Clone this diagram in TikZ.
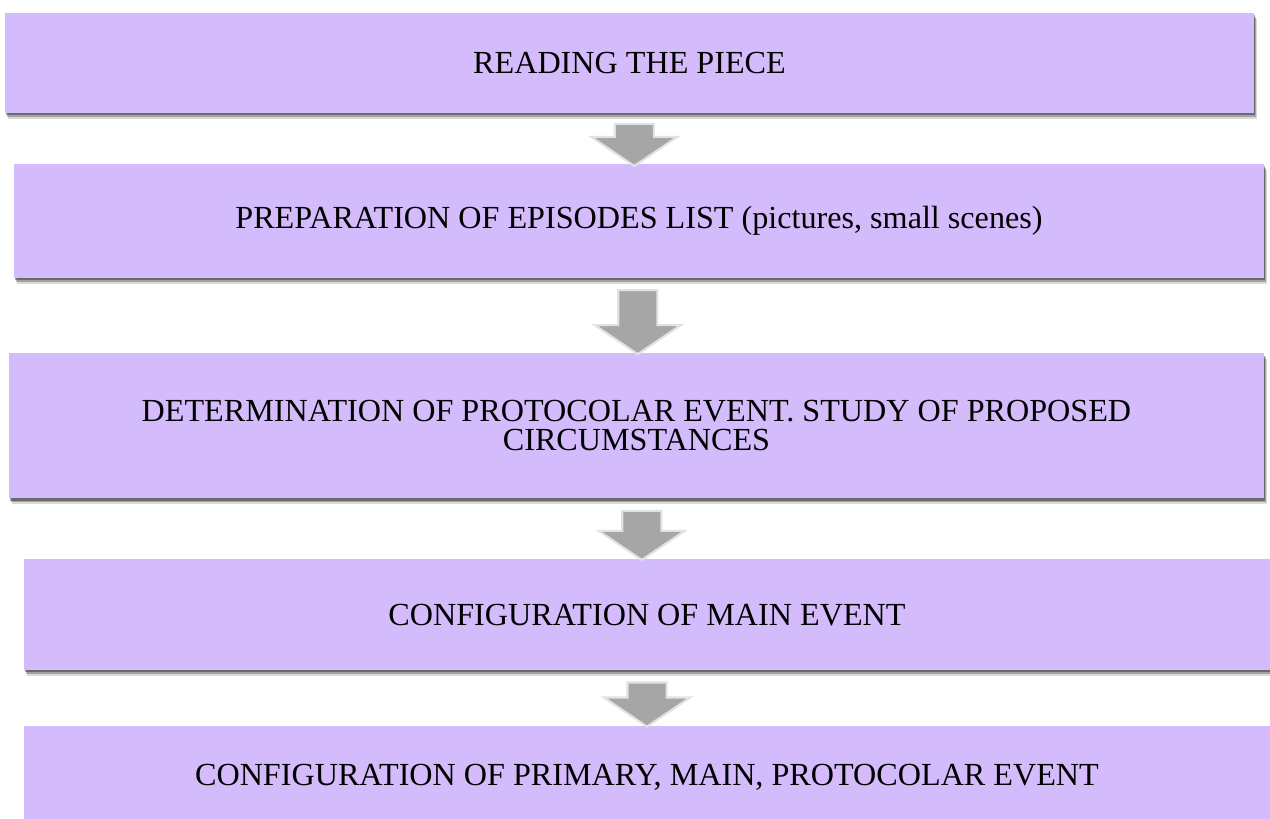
\documentclass[tikz,border=0pt]{standalone}
\usepackage{fontspec}
\setmainfont{Liberation Serif}
\usepackage{tikz}
\usetikzlibrary{shapes.arrows, positioning, shadows}
\definecolor{mylilac}{RGB}{212,188,252}
\definecolor{myarrow}{RGB}{166,166,166}
\definecolor{myrim}{RGB}{226,226,226}
\tikzset{
  stage/.style={rectangle, fill=mylilac, inner sep=0pt, align=center,
    font=\fontsize{18.3}{16.5}\selectfont,
    drop shadow={shadow xshift=1.6pt, shadow yshift=-3.4pt, opacity=0.15, fill=black},
    drop shadow={shadow xshift=1.1pt, shadow yshift=-2.3pt, opacity=0.25, fill=black},
    drop shadow={shadow xshift=0.5pt, shadow yshift=-1.2pt, opacity=0.35, fill=black}},
  downarrow/.style={single arrow, rotate=-90, fill=myarrow, draw=myrim,
    line width=1.2pt, inner xsep=0pt, inner ysep=0.37cm,
    single arrow head extend=0.47cm, single arrow tip angle=112}
}

\begin{document}
\begin{tikzpicture}[node distance=1.0cm]
  \useasboundingbox (0,0) rectangle (25.4,-16.38);
  \node[stage, minimum width=24.98cm, minimum height=2.0cm] (s1) at (12.59,-1.26) {READING THE PIECE};
  \node[stage, minimum width=25.0cm, minimum height=2.28cm, below=1.0cm of s1, xshift=0.19cm] (s2) {PREPARATION OF EPISODES LIST (pictures, small scenes)};
  \node[stage, minimum width=25.1cm, minimum height=2.9cm, below=1.5cm of s2, xshift=-0.05cm] (s3) {DETERMINATION OF PROTOCOLAR EVENT. STUDY OF PROPOSED\\CIRCUMSTANCES};
  \node[stage, minimum width=24.92cm, minimum height=2.22cm, below=1.2cm of s3, xshift=0.21cm] (s4) {CONFIGURATION OF MAIN EVENT};
  \node[stage, minimum width=24.92cm, minimum height=2.08cm, below=1.1cm of s4] (s5) {CONFIGURATION OF PRIMARY, MAIN, PROTOCOLAR EVENT};
  \path (s1.south) -- node[downarrow, minimum height=0.84cm] (a1) {} (s2.north);
  \path (s2.south) -- node[downarrow, minimum height=1.28cm] (a2) {} (s3.north);
  \path (s3.south) -- node[downarrow, minimum height=0.98cm] (a3) {} (s4.north);
  \path (s4.south) -- node[downarrow, minimum height=0.88cm] (a4) {} (s5.north);
\end{tikzpicture}
\end{document}
